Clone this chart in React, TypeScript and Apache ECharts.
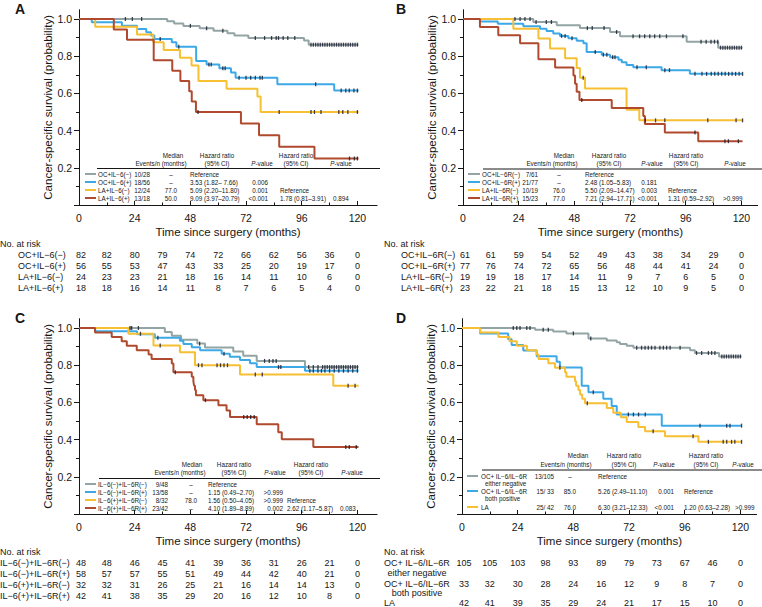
import React, { useEffect, useRef } from 'react';
import * as echarts from 'echarts';

const FONT = "'Liberation Sans', Arial, Helvetica, sans-serif";
const C_GRAY = '#93A4A4';
const C_BLUE = '#3CA9E6';
const C_YELLOW = '#F6C032';
const C_RED = '#AF4A2E';
const C_CENSOR = '#17172a';
const INK = '#161616';

const X_LABELS = [0, 24, 48, 72, 96, 120];
const X_MINOR = [12, 36, 60, 84, 108];
const Y_LABELS = [0.2, 0.4, 0.6, 0.8, 1.0];
const Y_MAJOR = [0, 0.2, 0.4, 0.6, 0.8, 1.0];
const Y_MINOR = [0.1, 0.3, 0.5, 0.7, 0.9];
const RISK_TIMES = [0, 12, 24, 36, 48, 60, 72, 84, 96, 108, 120];
const END_T = 120.5;

// ---------- Panel A ----------
const A_NAMES = ['OC+IL−6(−)', 'OC+IL−6(+)', 'LA+IL−6(−)', 'LA+IL−6(+)'];
const A_S1 = [[38, 0.988], [41, 0.976], [45, 0.963], [52, 0.95], [58, 0.937], [64, 0.924], [67, 0.911], [73, 0.898], [97, 0.884], [99, 0.862]];
const A_C1 = [20, 23, 27, 48, 55, 62, 76, 80, 83, 85, 86, 88, 90, 93, 100, 101, 102, 103, 104, 105, 106, 107, 108, 109, 110, 111, 112, 113, 114, 115, 116, 117, 118, 119, 120];
const A_S2 = [[5.5, 0.982], [18.5, 0.964], [25, 0.946], [29, 0.929], [31, 0.911], [32.5, 0.893], [40, 0.875], [42, 0.851], [50.5, 0.774], [55, 0.755], [60.5, 0.735], [65.5, 0.713], [67.5, 0.684], [85.5, 0.649], [110, 0.615]];
const A_C2 = [35, 43, 56, 57, 62, 63, 69, 72, 74, 76, 78, 79, 102, 113, 115, 116.5, 118.5, 120];
const A_S3 = [[7, 0.958], [25, 0.917], [32, 0.875], [36.5, 0.833], [43.5, 0.792], [48.5, 0.75], [51.5, 0.667], [63.6, 0.625], [76.9, 0.583], [78.3, 0.5]];
const A_C3 = [86.3, 100, 101.5, 104.3, 112, 113.7, 115.9, 120];
const A_S4 = [[15, 0.944], [20.7, 0.889], [32.2, 0.778], [40.2, 0.722], [43.7, 0.667], [47.5, 0.611], [48.6, 0.556], [50.4, 0.5], [69.8, 0.438], [77.6, 0.375], [86.3, 0.313], [101.5, 0.25]];
const A_C4 = [51.3, 116.6, 118.7, 120];
const A_EVENTS = ['10/28', '18/56', '12/24', '13/18'];
const A_MEDIAN = ['–', '–', '77.0', '50.0'];
const A_HR1 = ['Reference', '3.53 (1.82– 7.66)', '5.09 (2.20–11.80)', '9.09 (3.97–20.79)'];
const A_P1 = ['', '0.006', '0.001', '<0.001'];
const A_HR2 = ['', '', 'Reference', '1.78 (0.81–3.91)'];
const A_P2 = ['', '', '', '0.894'];
const A_R1 = [82, 82, 80, 79, 74, 72, 66, 62, 56, 36, 0];
const A_R2 = [56, 55, 53, 47, 43, 33, 25, 20, 19, 17, 0];
const A_R3 = [24, 23, 23, 21, 18, 16, 14, 11, 10, 6, 0];
const A_R4 = [18, 18, 16, 14, 11, 8, 7, 6, 5, 4, 0];

// ---------- Panel B ----------
const B_NAMES = ['OC+IL−6R(−)', 'OC+IL−6R(+)', 'LA+IL−6R(−)', 'LA+IL−6R(+)'];
const B_S1 = [[30.3, 0.984], [40.4, 0.967], [50.4, 0.951], [63.4, 0.93], [67.7, 0.907], [96.4, 0.878], [110, 0.846]];
const B_C1 = [22.4, 24.6, 26.7, 28.9, 31.5, 35.9, 38.1, 53.6, 55.7, 60.8, 66.2, 73.3, 76.1, 78.3, 80.5, 82.6, 84.8, 87.7, 94.8, 102.6, 104.8, 106.9, 108.4, 109.8, 111, 112, 113, 114, 115, 116, 117, 118, 119, 120];
const B_S2 = [[7.3, 0.987], [15, 0.974], [26, 0.961], [33.2, 0.948], [36, 0.935], [38.9, 0.922], [41.8, 0.909], [45.4, 0.896], [49, 0.883], [51.9, 0.869], [53.3, 0.822], [59.8, 0.808], [63.4, 0.795], [67, 0.781], [68.4, 0.767], [70.5, 0.753], [73.4, 0.74], [85.6, 0.725], [97.8, 0.705]];
const B_C2 = [42.5, 44, 47, 57, 60.5, 62, 64.5, 65.5, 75, 79, 87, 89, 100, 103, 105, 107, 108.5, 110, 111.5, 113, 114.5, 116, 117.5, 119, 120.5];
const B_S3 = [[21.7, 0.947], [32.5, 0.895], [37.5, 0.842], [44, 0.789], [49, 0.737], [50.4, 0.684], [52.6, 0.627], [70.5, 0.512], [76, 0.455]];
const B_C3 = [51.8, 78.6, 83, 87, 105.5, 117.7, 120.5];
const B_S4 = [[7.3, 0.957], [15.2, 0.913], [24.6, 0.87], [32.5, 0.783], [39.7, 0.739], [47.6, 0.696], [48.3, 0.652], [49, 0.609], [50.2, 0.565], [64.1, 0.522], [77.7, 0.478], [78.4, 0.435], [87, 0.39], [101.4, 0.343]];
const B_C4 = [51.2, 100, 112.9, 114.4, 118.7];
const B_EVENTS = ['7/61', '21/77', '10/19', '15/23'];
const B_MEDIAN = ['–', '–', '76.0', '77.0'];
const B_HR1 = ['Reference', '2.48 (1.05–5.83)', '5.50 (2.09–14.47)', '7.21 (2.94–17.71)'];
const B_P1 = ['', '0.181', '0.003', '<0.001'];
const B_HR2 = ['', '', 'Reference', '1.31 (0.59–2.92)'];
const B_P2 = ['', '', '', '>0.999'];
const B_R1 = [61, 61, 59, 54, 52, 49, 43, 38, 34, 29, 0];
const B_R2 = [77, 76, 74, 72, 65, 56, 48, 44, 41, 24, 0];
const B_R3 = [19, 19, 18, 17, 14, 11, 9, 7, 6, 5, 0];
const B_R4 = [23, 22, 21, 18, 15, 13, 12, 10, 9, 5, 0];

// ---------- Panel C ----------
const C_NAMES = ['IL−6(−)+IL−6R(−)', 'IL−6(−)+IL−6R(+)', 'IL−6(+)+IL−6R(−)', 'IL−6(+)+IL−6R(+)'];
const C_S1 = [[37, 0.979], [40, 0.958], [44, 0.937], [51, 0.916], [54.3, 0.895], [66.5, 0.873], [70.8, 0.851], [76.6, 0.823], [97.4, 0.79]];
const C_C1 = [22, 22.7, 25.6, 52, 80, 82, 83.6, 85, 99, 101, 103, 105, 106, 107, 108, 109, 110, 111, 112, 113, 114, 115, 116, 117, 118, 119, 120];
const C_S2 = [[7, 0.983], [25, 0.966], [32.7, 0.948], [43.5, 0.931], [45, 0.914], [48.6, 0.897], [52.2, 0.88], [61.5, 0.862], [65, 0.845], [69.4, 0.828], [73.7, 0.81], [76.6, 0.79], [97.4, 0.77]];
const C_C2 = [34, 62.5, 86, 87, 99.5, 101, 103, 104.5, 106, 108, 110, 112, 114, 116, 118, 120];
const C_S3 = [[21.3, 0.969], [32.1, 0.906], [43.5, 0.87], [50, 0.8], [69.4, 0.75], [109.6, 0.69]];
const C_C3 = [26.5, 35, 51.5, 53, 59.5, 61, 62.5, 64, 76, 79, 116, 119];
const C_S4 = [[6.9, 0.976], [14.1, 0.952], [18.4, 0.929], [20.6, 0.905], [24.9, 0.881], [30, 0.857], [31.3, 0.833], [40, 0.809], [40.7, 0.762], [48.6, 0.738], [49.3, 0.714], [49.6, 0.69], [50, 0.666], [50.4, 0.638], [53.6, 0.612], [60.1, 0.585], [63.6, 0.557], [65.1, 0.521], [76.6, 0.482], [85.9, 0.44], [87.4, 0.402], [101, 0.36]];
const C_C4 = [41.5, 54.5, 71, 72.5, 74, 75.5, 115, 116.5, 119.5];
const C_EVENTS = ['9/48', '13/58', '8/32', '23/42'];
const C_MEDIAN = ['–', '–', '78.0', '–'];
const C_HR1 = ['Reference', '1.15 (0.49–2.70)', '1.56 (0.50–4.05)', '4.10 (1.89–8.89)'];
const C_P1 = ['', '>0.999', '>0.999', '0.002'];
const C_HR2 = ['', '', 'Reference', '2.62 (1.17–5.87)'];
const C_P2 = ['', '', '', '0.083'];
const C_R1 = [48, 48, 46, 45, 41, 39, 36, 31, 26, 21, 0];
const C_R2 = [58, 57, 57, 55, 51, 49, 44, 42, 40, 21, 0];
const C_R3 = [32, 32, 31, 26, 25, 21, 16, 14, 14, 13, 0];
const C_R4 = [42, 41, 38, 35, 29, 20, 16, 12, 10, 8, 0];

// ---------- Panel D ----------
const D_NAMES = ['OC+ IL−6/IL−6R', 'OC+ IL−6/IL−6R', 'LA'];
const D_SUBS = ['either negative', 'both positive', ''];
const D_S1 = [[31.5, 0.99], [39.3, 0.981], [45, 0.971], [54.5, 0.943], [62.4, 0.933], [66.7, 0.924], [68.1, 0.914], [71, 0.904], [73.9, 0.894], [98.3, 0.88], [100.4, 0.866], [110.8, 0.847]];
const D_C1 = [22.1, 23.6, 25, 27.9, 29.3, 35, 37.2, 48, 55.5, 75.3, 77.4, 78.9, 80.3, 81.7, 83.2, 85.3, 86.8, 88.2, 89.7, 94, 101.1, 103.3, 106.2, 107.6, 109, 112, 113, 114, 115, 116, 117, 118, 119, 120];
const D_S2 = [[7.8, 0.97], [19.9, 0.94], [21.4, 0.909], [26.4, 0.879], [32.2, 0.848], [40.8, 0.818], [42.2, 0.788], [51.6, 0.69], [54.5, 0.655], [60.9, 0.62], [64.5, 0.58], [66.7, 0.535], [86.1, 0.475]];
const D_C2 = [56.6, 71.7, 73.9, 76.1, 79, 102.6, 114.1, 115.5, 120.5];
const D_S3 = [[7.8, 0.976], [15.7, 0.952], [20.5, 0.929], [23.6, 0.905], [28, 0.881], [32.2, 0.857], [33, 0.833], [37.2, 0.81], [40.1, 0.786], [44.4, 0.762], [45, 0.738], [48.7, 0.714], [49.2, 0.69], [50.2, 0.666], [50.9, 0.643], [51.8, 0.619], [53, 0.595], [62.4, 0.57], [65.2, 0.545], [68.5, 0.52], [71, 0.494], [76, 0.468], [78.9, 0.445], [87.5, 0.418], [101.9, 0.388]];
const D_C3 = [42.2, 54, 82.4, 99.6, 106.2, 112.6, 114.1, 116.2, 117.6, 120.5];
const D_EVENTS = ['13/105', '15/ 33', '25/ 42'];
const D_MEDIAN = ['–', '85.0', '76.0'];
const D_HR1 = ['Reference', '5.26 (2.49–11.10)', '6.30 (3.21–12.33)'];
const D_P1 = ['', '0.001', '<0.001'];
const D_HR2 = ['', 'Reference', '1.20 (0.63–2.28)'];
const D_P2 = ['', '', '>0.999'];
const D_R1 = [105, 105, 103, 98, 93, 89, 79, 73, 67, 46, 0];
const D_R2 = [33, 32, 30, 28, 24, 16, 12, 9, 8, 7, 0];
const D_R3 = [42, 41, 39, 35, 29, 24, 21, 17, 15, 10, 0];

const COLORS4 = [C_GRAY, C_BLUE, C_YELLOW, C_RED];
const COLORS3 = [C_GRAY, C_BLUE, C_YELLOW];

const PX_PER_MONTH = 2.32;
const PLOT_H = 195.3;

const PANELS = [
  {
    letter: 'A', letterXY: [15, 9], left: 79, top: 9.7, xMax: 128.5,
    steps: [A_S1, A_S2, A_S3, A_S4], censors: [A_C1, A_C2, A_C3, A_C4], colors: COLORS4,
    names: A_NAMES, subs: null as string[] | null, events: A_EVENTS, median: A_MEDIAN, hr1: A_HR1, p1: A_P1, hr2: A_HR2, p2: A_P2,
    risk: [A_R1, A_R2, A_R3, A_R4],
    lg: { h1: 155, h2: 163.5, rule: 168.5, ruleX: [97, 380], rows: [174, 182, 190, 198], subRows: [] as number[], sw: [85, 96], lab: 98, evR: 150, medC: 171, hrL: 190, p1R: 268, hr2L: 280, p2L: 333, hMedC: 173, hEvR: 186.5, hHrC: 217, hPC: 262, hHr2C: 296, hP2C: 341 },
    rk: { title: [0, 244], labX: 18, rows: [255, 266, 277, 287.5], subRows: [] as number[] },
  },
  {
    letter: 'B', letterXY: [396, 9], left: 463, top: 9.7, xMax: 127,
    steps: [B_S1, B_S2, B_S3, B_S4], censors: [B_C1, B_C2, B_C3, B_C4], colors: COLORS4,
    names: B_NAMES, subs: null as string[] | null, events: B_EVENTS, median: B_MEDIAN, hr1: B_HR1, p1: B_P1, hr2: B_HR2, p2: B_P2,
    risk: [B_R1, B_R2, B_R3, B_R4],
    lg: { h1: 155, h2: 163.5, rule: 169, ruleX: [483, 762], rows: [174, 182, 190, 198], subRows: [] as number[], sw: [468, 480], lab: 482, evR: 538, medC: 559, hrL: 585, p1R: 657, hr2L: 668, p2L: 723, hMedC: 564, hEvR: 577.5, hHrC: 609, hPC: 652, hHr2C: 686, hP2C: 735 },
    rk: { title: [384, 244], labX: 401, rows: [255, 266, 277, 287.5], subRows: [] as number[] },
  },
  {
    letter: 'C', letterXY: [15, 318], left: 79, top: 318.7, xMax: 128.5,
    steps: [C_S1, C_S2, C_S3, C_S4], censors: [C_C1, C_C2, C_C3, C_C4], colors: COLORS4,
    names: C_NAMES, subs: null as string[] | null, events: C_EVENTS, median: C_MEDIAN, hr1: C_HR1, p1: C_P1, hr2: C_HR2, p2: C_P2,
    risk: [C_R1, C_R2, C_R3, C_R4],
    lg: { h1: 464, h2: 472.5, rule: 478.5, ruleX: [99, 380], rows: [484, 492, 500, 508], subRows: [] as number[], sw: [85, 96], lab: 98, evR: 168, medC: 191, hrL: 208, p1R: 283, hr2L: 287, p2L: 340, hMedC: 192, hEvR: 205.5, hHrC: 234, hPC: 275, hHr2C: 311, hP2C: 352 },
    rk: { title: [0, 552], labX: 0, rows: [563, 574, 585, 596], subRows: [] as number[] },
  },
  {
    letter: 'D', letterXY: [396, 318], left: 462, top: 318.7, xMax: 127,
    steps: [D_S1, D_S2, D_S3], censors: [D_C1, D_C2, D_C3], colors: COLORS3,
    names: D_NAMES, subs: D_SUBS, events: D_EVENTS, median: D_MEDIAN, hr1: D_HR1, p1: D_P1, hr2: D_HR2, p2: D_P2,
    risk: [D_R1, D_R2, D_R3],
    lg: { h1: 455, h2: 464, rule: 470, ruleX: [482, 762], rows: [476, 491, 507], subRows: [483, 498], sw: [467, 478], lab: 481, evR: 554, medC: 570, hrL: 598, p1R: 674, hr2L: 684, p2L: 735, hMedC: 578, hEvR: 591.5, hHrC: 624, hPC: 664, hHr2C: 706, hP2C: 743 },
    rk: { title: [384, 552], labX: 384, rows: [563, 584, 603], subRows: [573, 593] },
  },
];

function survAt(steps: number[][], t: number): number {
  let s = 1;
  for (const [x, v] of steps) if (x <= t) s = v;
  return s;
}

const LG_FS = 6.3;
const RK_FS = 9;

function txt(x: number, y: number, text: string, size: number, align = 'left', extra: any = {}) {
  return {
    type: 'text', silent: true, z: 10,
    style: { text, x, y, fill: INK, fontSize: size, fontFamily: FONT, align, verticalAlign: 'middle', ...extra },
  };
}
function pval(x: number, y: number, size: number) {
  return {
    type: 'text', silent: true, z: 10,
    style: {
      x, y, text: '{i|P}{n|-value}', align: 'center', verticalAlign: 'middle',
      rich: {
        i: { fontStyle: 'italic', fontSize: size, fontFamily: FONT, fill: INK },
        n: { fontSize: size, fontFamily: FONT, fill: INK },
      },
    },
  };
}
function hline(x1: number, x2: number, y: number, color: string, w: number) {
  return { type: 'line', silent: true, z: 10, shape: { x1, y1: y, x2, y2: y }, style: { stroke: color, lineWidth: w } };
}

function buildOption() {
  const grid: any[] = [];
  const xAxis: any[] = [];
  const yAxis: any[] = [];
  const series: any[] = [];
  PANELS.forEach((p, g) => {
    grid.push({ left: p.left, top: p.top, width: p.xMax * PX_PER_MONTH, height: PLOT_H });
    xAxis.push({
      type: 'value', gridIndex: g, min: 0, max: p.xMax, position: 'bottom',
      axisLine: { show: true, onZero: false, lineStyle: { color: INK, width: 1 } },
      axisTick: { show: true, inside: true, length: 4, customValues: X_LABELS, lineStyle: { color: INK } },
      axisLabel: { show: true, customValues: X_LABELS, margin: 7, fontSize: 10.5, color: INK, fontFamily: FONT },
      splitLine: { show: false },
      name: 'Time since surgery (months)', nameLocation: 'middle', nameGap: 21,
      nameTextStyle: { fontSize: 11.5, color: INK, fontFamily: FONT },
    });
    xAxis.push({
      type: 'value', gridIndex: g, min: 0, max: p.xMax, position: 'bottom',
      axisLine: { show: false },
      axisTick: { show: true, inside: true, length: 2.5, customValues: X_MINOR, lineStyle: { color: INK } },
      axisLabel: { show: false }, splitLine: { show: false },
    });
    yAxis.push({
      type: 'value', gridIndex: g, min: 0, max: 1.05, position: 'left',
      axisLine: { show: true, onZero: false, lineStyle: { color: INK, width: 1 } },
      axisTick: { show: true, inside: false, length: 5, customValues: Y_MAJOR, lineStyle: { color: INK } },
      axisLabel: { show: true, customValues: Y_LABELS, margin: 7, fontSize: 10.5, color: INK, fontFamily: FONT, formatter: (v: number) => v.toFixed(1) },
      splitLine: { show: false },
      name: 'Cancer-specific survival (probability)', nameLocation: 'middle', nameGap: 25,
      nameTextStyle: { fontSize: 11.5, color: INK, fontFamily: FONT },
    });
    yAxis.push({
      type: 'value', gridIndex: g, min: 0, max: 1.05, position: 'left', offset: 0,
      axisLine: { show: false },
      axisTick: { show: true, inside: false, length: 3, customValues: Y_MINOR, lineStyle: { color: INK } },
      axisLabel: { show: false }, splitLine: { show: false },
    });
    p.steps.forEach((st, k) => {
      const last = st[st.length - 1][1];
      series.push({
        type: 'line', xAxisIndex: 2 * g, yAxisIndex: 2 * g, step: 'end', symbol: 'none', silent: true,
        data: [[0, 1], ...st, [END_T, last]],
        lineStyle: { color: p.colors[k], width: 2 }, itemStyle: { color: p.colors[k] }, z: 2 + k * 0.01,
      });
    });
    p.censors.forEach((cs, k) => {
      series.push({
        type: 'scatter', xAxisIndex: 2 * g, yAxisIndex: 2 * g, symbol: 'rect', symbolSize: [1.3, 4], silent: true,
        data: cs.map((t) => [t, survAt(p.steps[k], t)]),
        itemStyle: { color: C_CENSOR }, z: 5,
      });
    });
  });
  return { animation: false, backgroundColor: '#ffffff', grid, xAxis, yAxis, series };
}

function buildGraphic(chart: echarts.ECharts) {
  const els: any[] = [];
  PANELS.forEach((p, g) => {
    els.push(txt(p.letterXY[0], p.letterXY[1], p.letter, 14, 'left', { fontWeight: 'bold' }));
    const L = p.lg;
    els.push(txt(L.hMedC, L.h1, 'Median', LG_FS, 'center'));
    els.push(txt(L.hEvR, L.h2, 'Events/n (months)', LG_FS, 'right'));
    els.push(txt(L.hHrC, L.h1, 'Hazard ratio', LG_FS, 'center'));
    els.push(txt(L.hHrC, L.h2, '(95% CI)', LG_FS, 'center'));
    els.push(pval(L.hPC, L.h2, LG_FS));
    els.push(txt(L.hHr2C, L.h1, 'Hazard ratio', LG_FS, 'center'));
    els.push(txt(L.hHr2C, L.h2, '(95% CI)', LG_FS, 'center'));
    els.push(pval(L.hP2C, L.h2, LG_FS));
    els.push(hline(L.ruleX[0], L.ruleX[1], L.rule, INK, 1));
    p.names.forEach((nm, k) => {
      const y = L.rows[k];
      els.push(hline(L.sw[0], L.sw[1], y, p.colors[k], 2));
      els.push(txt(L.lab, y, nm, LG_FS));
      if (p.subs && p.subs[k]) els.push(txt(L.lab + 4, L.subRows[k], p.subs[k], LG_FS));
      els.push(txt(L.evR, y, p.events[k], LG_FS, 'right'));
      els.push(txt(L.medC, y, p.median[k], LG_FS, 'center'));
      if (p.hr1[k]) els.push(txt(L.hrL, y, p.hr1[k], LG_FS));
      if (p.p1[k]) els.push(txt(L.p1R, y, p.p1[k], LG_FS, 'right'));
      if (p.hr2[k]) els.push(txt(L.hr2L, y, p.hr2[k], LG_FS));
      if (p.p2[k]) els.push(txt(L.p2L, y, p.p2[k], LG_FS));
    });
    const R = p.rk;
    els.push(txt(R.title[0], R.title[1], 'No. at risk', RK_FS));
    p.names.forEach((nm, k) => {
      const y = R.rows[k];
      els.push(txt(R.labX, y, nm, RK_FS));
      if (p.subs && p.subs[k]) {
        els.push(txt(R.labX + 33, R.subRows[k], p.subs[k], RK_FS, 'center'));
      }
      p.risk[k].forEach((v, i) => {
        const x = chart.convertToPixel({ xAxisIndex: 2 * g } as any, RISK_TIMES[i]) as unknown as number;
        els.push(txt(x + (i === 0 ? 2 : 0), y, String(v), RK_FS, 'center'));
      });
    });
  });
  return els;
}

export default function App() {
  const ref = useRef<HTMLDivElement>(null);
  useEffect(() => {
    if (!ref.current) return;
    const chart = echarts.init(ref.current, undefined, { renderer: 'svg' });
    chart.setOption(buildOption() as any);
    chart.setOption({ graphic: { elements: buildGraphic(chart) } } as any);
    return () => chart.dispose();
  }, []);
  return (
    <div
      ref={ref}
      style={{ position: 'absolute', left: 0, top: 0, width: 762, height: 607, background: '#fff' }}
    />
  );
}
